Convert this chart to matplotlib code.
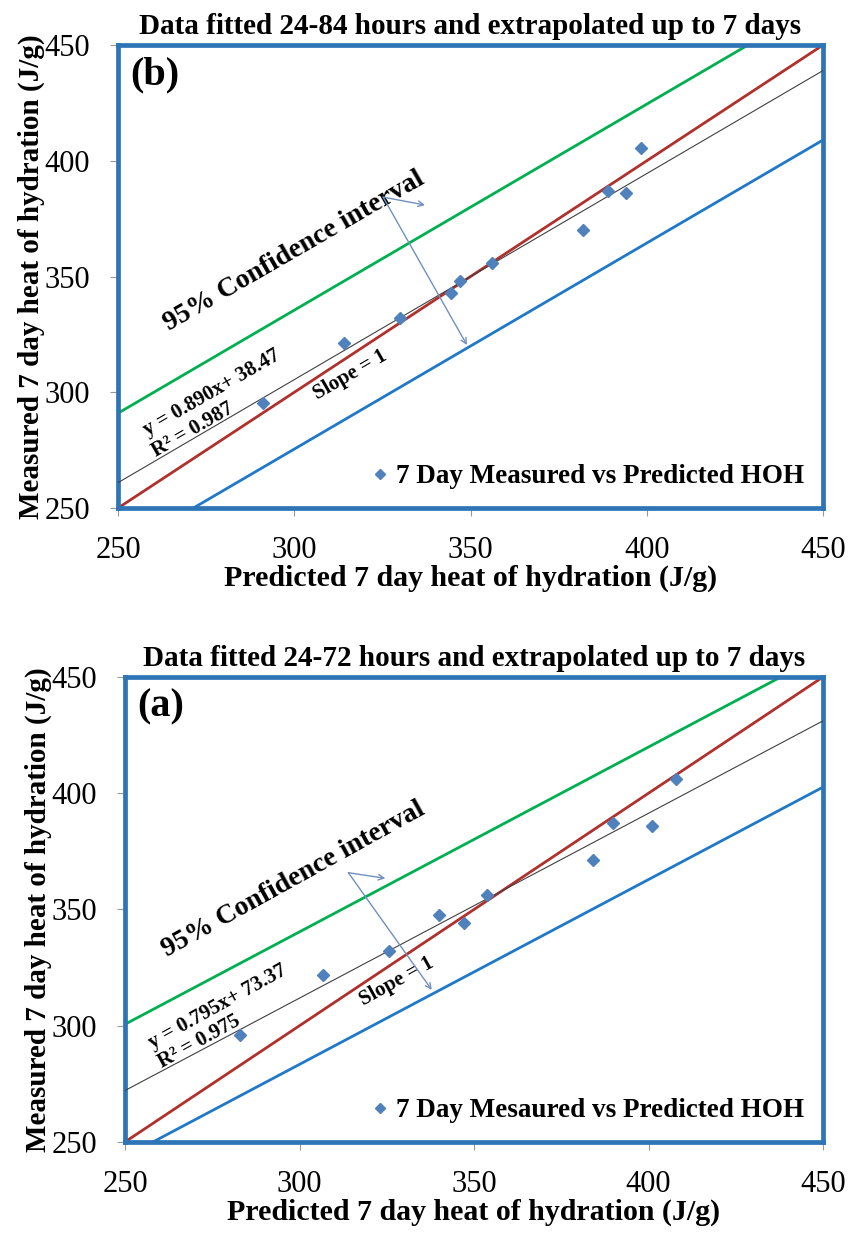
import numpy as np
import matplotlib
matplotlib.use("Agg")
import matplotlib.pyplot as plt

# ---- data ------------------------------------------------------------
# panel (b): fitted 24-84 h
pred_b = [291, 314, 330, 344.5, 347, 356, 382, 389, 394, 398.5]
meas_b = [295.5, 321.5, 332, 343, 348, 356, 370, 387, 386, 405.5]
fit_b = (0.890, 38.47)
r2_b = 0.987
ci_b = 30.0

# panel (a): fitted 24-72 h
pred_a = [283, 306.6, 325.7, 339.9, 347, 353.6, 384, 389.7, 400.9, 407.9]
meas_a = [296, 321.8, 332, 347.8, 344, 356.3, 371.3, 387.3, 385.9, 406]
fit_a = (0.795, 73.37)
r2_a = 0.975
ci_a = 28.5

LIMS = (250, 450)
TICKS = [250, 300, 350, 400, 450]

FRAME = "#2E75B6"
GREEN = "#00B050"
RED = "#B0302C"
BLUE = "#1F78C8"
POINT = "#4F81BD"
ARROW = "#7090C0"
SERIF = ["Liberation Serif", "DejaVu Serif"]

plt.rcParams["font.family"] = SERIF


def panel(ax, pred, meas, fit, r2, ci, tag, legend_label, title, ann):
    m, c = fit
    x = np.array(LIMS, dtype=float)
    ax.plot(x, m * x + c + ci, color=GREEN, lw=2.0, zorder=2)
    ax.plot(x, m * x + c - ci, color=BLUE, lw=2.0, zorder=2)
    ax.plot(x, x, color=RED, lw=2.0, zorder=2)
    ax.plot(x, m * x + c, color="#404040", lw=0.8, zorder=3)
    ax.plot(pred, meas, "D", color=POINT, ms=6, ls="none", zorder=4,
            label=legend_label)

    ax.set_xlim(*LIMS)
    ax.set_ylim(*LIMS)
    ax.set_xticks(TICKS)
    ax.set_yticks(TICKS)
    ax.tick_params(axis="both", labelsize=22, length=6, width=0.8,
                   color="#999999", pad=14)
    ax.tick_params(top=False, right=False)
    for s in ax.spines.values():
        s.set_color(FRAME)
        s.set_linewidth(3.4)

    ax.set_xlabel("Predicted 7 day heat of hydration (J/g)", fontsize=21.5,
                  fontweight="bold", labelpad=0)
    ax.set_ylabel("Measured 7 day heat of hydration (J/g)", fontsize=21,
                  fontweight="bold", labelpad=0)
    ax.set_title(title, fontsize=21, fontweight="bold", pad=8)

    ax.text(0.018, 0.975, tag, transform=ax.transAxes, fontsize=29,
            fontweight="bold", ha="left", va="top")

    rot = ann["rot"]
    ax.text(*ann["ci_xy"], "95% Confidence interval", fontsize=20,
            fontweight="bold", rotation=rot, rotation_mode="anchor",
            ha="center", va="center")
    ax.text(*ann["eq_xy"], f"y = {m:.3f}x+ {c:.2f}", fontsize=15,
            fontweight="bold", rotation=rot, rotation_mode="anchor",
            ha="center", va="center")
    ax.text(*ann["r2_xy"], f"R² = {r2:.3f}", fontsize=15,
            fontweight="bold", rotation=rot, rotation_mode="anchor",
            ha="center", va="center")
    ax.text(*ann["slope_xy"], "Slope = 1", fontsize=15,
            fontweight="bold", rotation=rot, rotation_mode="anchor",
            ha="center", va="center")

    vx, vy = ann["vertex"]
    for end in (ann["short_end"], ann["long_end"]):
        ax.annotate("", xy=end, xytext=(vx, vy),
                    arrowprops=dict(arrowstyle="->", color=ARROW, lw=1.0,
                                    shrinkA=0, shrinkB=0))

    leg = ax.legend(loc="lower right", frameon=False,
                    handletextpad=0.2, handlelength=0.8,
                    borderaxespad=0.3, markerscale=0.8,
                    prop={"weight": "bold", "size": 19.5})
    return leg


fig = plt.figure(figsize=(8.51, 12.34), dpi=100)
ax_b = fig.add_axes([0.1387, 0.5883, 0.8284, 0.3752])
ax_a = fig.add_axes([0.1469, 0.0746, 0.8202, 0.3768])

panel(ax_b, pred_b, meas_b, fit_b, r2_b, ci_b, "(b)",
      "7 Day Measured vs Predicted HOH",
      "Data fitted 24-84 hours and extrapolated up to 7 days",
      dict(rot=30, ci_xy=(300, 361), eq_xy=(276.7, 299.7),
           r2_xy=(271.3, 283.7), slope_xy=(315.8, 307.5),
           vertex=(325.2, 384.3), short_end=(337.1, 380.9),
           long_end=(349, 320.4)))

panel(ax_a, pred_a, meas_a, fit_a, r2_a, ci_a, "(a)",
      "7 Day Mesaured vs Predicted HOH",
      "Data fitted 24-72 hours and extrapolated up to 7 days",
      dict(rot=29, ci_xy=(298.4, 362.7), eq_xy=(276.7, 308),
           r2_xy=(271.3, 293), slope_xy=(328, 319),
           vertex=(314, 365.8), short_end=(324.6, 363.4),
           long_end=(337.9, 315.4)))

fig.savefig("out.png", dpi=100)
